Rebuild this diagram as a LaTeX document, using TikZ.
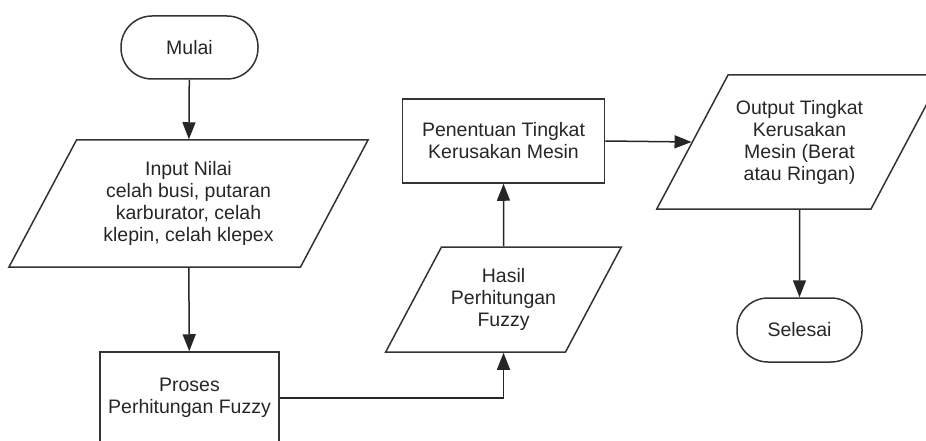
\documentclass[tikz,border=0pt]{standalone}
\usepackage{fontspec}
\setmainfont{Liberation Sans}
\usetikzlibrary{shapes.geometric, arrows.meta, positioning}
\tikzset{
    startstop/.style={rectangle, rounded corners=31pt, minimum width=137pt, minimum height=63pt, text centered, draw=black!80, line width=1.5pt},
    process/.style={rectangle, text centered, align=center, draw=black!80, line width=1.5pt},
    io/.style={trapezium, trapezium left angle=62, trapezium right angle=118, inner sep=0pt, draw=black!80, line width=1.5pt},
    arrow/.style={line width=1.5pt, draw=black!85, -{Triangle[length=17pt,width=13pt]}},
}
% isi jajaran genjang: lebar badan, tinggi, teks
\newcommand{\iotext}[3]{\parbox[c][#2][c]{#1}{\centering #3}}

\begin{document}
\begin{tikzpicture}[x=1pt, y=-1pt, font=\fontsize{19.5}{22}\selectfont, text=black!85]
    \useasboundingbox (0,0) rectangle (926,441);
    % kolom kiri
    \node[startstop] (mulai) at (189.5,47.5) {Mulai};
    \node[io] (input) at (188.5,203.5)
        {\iotext{224pt}{127pt}{Input Nilai\\celah busi, putaran\\karburator, celah\\klepin, celah klepex}};
    \node[process, minimum width=179pt, minimum height=92pt] (proses) at (189.5,398)
        {Proses\\Perhitungan Fuzzy};
    % kolom tengah
    \node[io] (hasil) at (503.5,299.5)
        {\iotext{124pt}{105pt}{Hasil\\Perhitungan\\Fuzzy}};
    \node[process, minimum width=202pt, minimum height=84pt] (tentu) at (503.5,141)
        {Penentuan Tingkat\\Kerusakan Mesin};
    % kolom kanan
    \node[io] (output) at (799.5,142)
        {\iotext{143pt}{134pt}{Output Tingkat\\Kerusakan\\Mesin (Berat\\atau Ringan)}};
    \node[startstop, minimum width=125pt, minimum height=64pt] (selesai) at (799.5,330) {Selesai};

    \draw[arrow] (mulai) -- (input);
    \draw[arrow] (input) -- (proses);
    \draw[arrow] (proses.east) -| (hasil.south);
    \draw[arrow] (hasil.north) -- (tentu.south);
    \draw[arrow] (tentu.east) -- (output.west);
    \draw[arrow] (output.south) -- (selesai.north);
\end{tikzpicture}
\end{document}
